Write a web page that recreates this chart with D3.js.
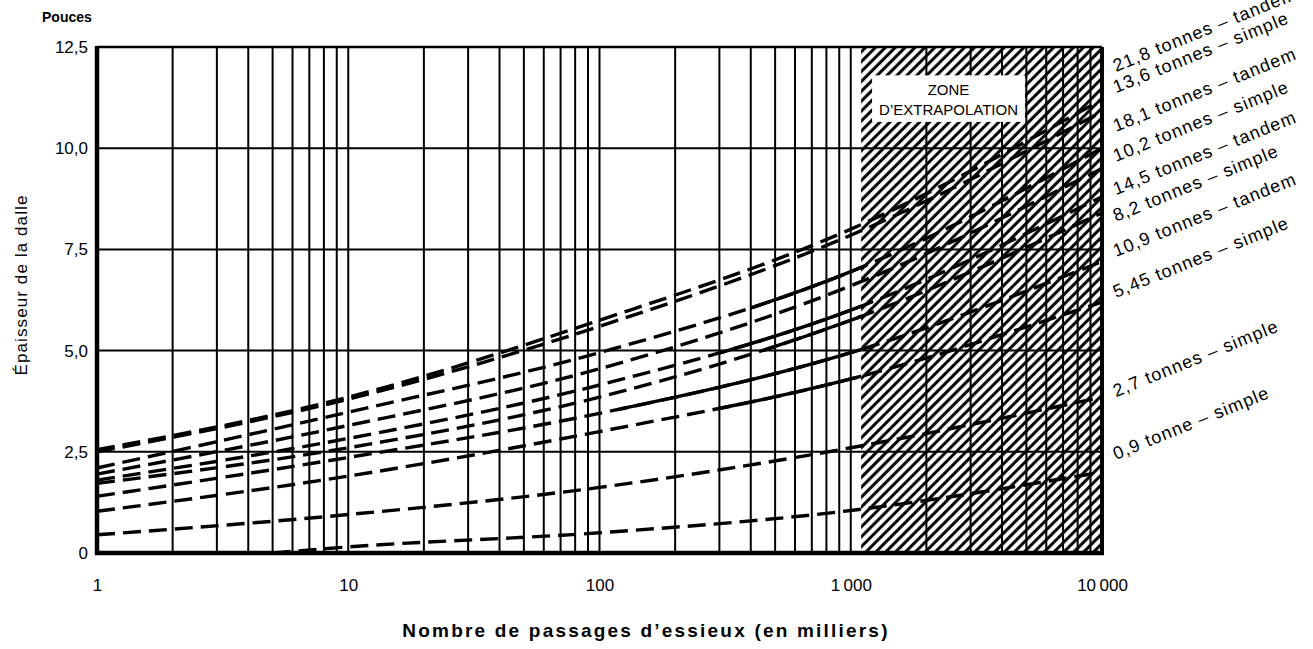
<!DOCTYPE html>
<html>
<head>
<meta charset="utf-8">
<script src="https://cdn.jsdelivr.net/npm/d3@7"></script>
<style>
  html, body { margin: 0; padding: 0; background: #fff; }
  svg { display: block; font-family: "Liberation Sans", Arial, Helvetica, sans-serif; }
</style>
</head>
<body>
<svg id="chart" width="1313" height="649"></svg>
<script>
// ---------------- DATA ----------------
const passages = [1, 10, 100, 1000, 10000];          // milliers de passages
const passages09 = [5, 10, 100, 1000, 10000];        // courbe 0,9 tonne (commence plus loin)

const t218tandem = [2.55, 3.85, 5.75, 8.0, 11.2];
const t136simple = [2.5, 3.8, 5.6, 7.85, 10.9];
const t181tandem = [2.1, 3.48, 4.95, 6.95, 10.0];
const t102simple = [1.95, 3.15, 4.55, 6.6, 9.5];
const t145tandem = [1.8, 2.83, 4.15, 6.0, 8.8];
const t82simple  = [1.72, 2.6, 3.85, 5.75, 8.4];
const t109tandem = [1.4, 2.36, 3.45, 4.95, 7.2];
const t545simple = [1.03, 1.9, 3.0, 4.3, 6.2];
const t27simple  = [0.45, 0.95, 1.62, 2.6, 3.85];
const t09simple  = [0.0, 0.15, 0.5, 1.05, 2.0];

const seriesLabels = [
  "21,8 tonnes – tandem", "13,6 tonnes – simple", "18,1 tonnes – tandem",
  "10,2 tonnes – simple", "14,5 tonnes – tandem", "8,2 tonnes – simple",
  "10,9 tonnes – tandem", "5,45 tonnes – simple", "2,7 tonnes – simple",
  "0,9 tonne – simple"
];
// start of the solid (measured) part of each curve, null = dashed only
const solidFrom = [null, null, 400, null, 300, 450, 120, 300, null, null];
const extrapolationStart = 1100;

const yTicks = [0, 2.5, 5, 7.5, 10, 12.5];
const yTickLabels = ["0", "2,5", "5,0", "7,5", "10,0", "12,5"];
const xTicks = [1, 10, 100, 1000, 10000];
const xTickLabels = ["1", "10", "100", "1\u2009000", "10\u2009000"];

// label anchor heights (layout, in inch units) for the right-hand labels
const labelAnchorY = [11.88, 11.36, 10.4, 9.66, 8.84, 8.18, 7.31, 6.3, 3.85, 2.3];

// ---------------- CHART ----------------
const svg = d3.select("#chart");
const x = d3.scaleLog().domain([1, 10000]).range([97, 1102]);
const y = d3.scaleLinear().domain([0, 12.5]).range([553, 47]);

const series = [
  {xs: passages, ys: t218tandem}, {xs: passages, ys: t136simple},
  {xs: passages, ys: t181tandem}, {xs: passages, ys: t102simple},
  {xs: passages, ys: t145tandem}, {xs: passages, ys: t82simple},
  {xs: passages, ys: t109tandem}, {xs: passages, ys: t545simple},
  {xs: passages, ys: t27simple},  {xs: passages09, ys: t09simple}
];

const defs = svg.append("defs");
const pat = defs.append("pattern").attr("id", "hatch")
  .attr("patternUnits", "userSpaceOnUse").attr("width", 7).attr("height", 7)
  .attr("patternTransform", "rotate(45)");
pat.append("line").attr("x1", 1.6).attr("y1", 0).attr("x2", 1.6).attr("y2", 7)
  .attr("stroke", "#000").attr("stroke-width", 3.0);

svg.append("rect").attr("width", 1313).attr("height", 649).attr("fill", "#fff");

// extrapolation zone
svg.append("rect")
  .attr("x", x(extrapolationStart)).attr("y", y(12.5))
  .attr("width", x(10000) - x(extrapolationStart)).attr("height", y(0) - y(12.5))
  .attr("fill", "url(#hatch)");

// grid
const vgrid = [];
for (let k = 0; k < 4; k++) for (let m = 1; m < 10; m++) vgrid.push(m * Math.pow(10, k));
svg.append("g").selectAll("line").data(vgrid).join("line")
  .attr("x1", d => x(d)).attr("x2", d => x(d))
  .attr("y1", y(12.5)).attr("y2", y(0))
  .attr("stroke", "#000").attr("stroke-width", 2);
svg.append("g").selectAll("line").data([2.5, 5, 7.5, 10]).join("line")
  .attr("x1", x(1)).attr("x2", x(10000))
  .attr("y1", d => y(d)).attr("y2", d => y(d))
  .attr("stroke", "#000").attr("stroke-width", 2);

// frame
svg.append("line").attr("x1", x(1)).attr("x2", x(10000)).attr("y1", y(12.5)).attr("y2", y(12.5))
  .attr("stroke", "#000").attr("stroke-width", 2.5);
svg.append("line").attr("x1", x(10000)).attr("x2", x(10000)).attr("y1", y(12.5)).attr("y2", y(0))
  .attr("stroke", "#000").attr("stroke-width", 4);
svg.append("line").attr("x1", x(1)).attr("x2", x(1)).attr("y1", y(12.5) - 1).attr("y2", y(0) + 2)
  .attr("stroke", "#000").attr("stroke-width", 4.5);
svg.append("line").attr("x1", x(1) - 2).attr("x2", x(10000) + 2).attr("y1", y(0)).attr("y2", y(0))
  .attr("stroke", "#000").attr("stroke-width", 4.5);

// curves
const lineGen = d3.line().x(d => x(d[0])).y(d => y(d[1])).curve(d3.curveMonotoneX);
const gl = svg.append("g");
series.forEach((s, i) => {
  const pts = s.xs.map((v, j) => [v, s.ys[j]]);
  gl.append("path").attr("d", lineGen(pts))
    .attr("fill", "none").attr("stroke", "#000").attr("stroke-width", 3.4)
    .attr("stroke-dasharray", "18,8");
  if (solidFrom[i] !== null) {
    const cid = "solid" + i;
    defs.append("clipPath").attr("id", cid).append("rect")
      .attr("x", x(solidFrom[i])).attr("y", 0)
      .attr("width", x(extrapolationStart) - x(solidFrom[i])).attr("height", 649);
    gl.append("path").attr("d", lineGen(pts))
      .attr("clip-path", `url(#${cid})`)
      .attr("fill", "none").attr("stroke", "#000").attr("stroke-width", 3.4);
  }
});

// axes
const yAxis = svg.append("g").attr("transform", `translate(${x(1)},0)`)
  .call(d3.axisLeft(y).tickValues(yTicks).tickFormat((d, i) => yTickLabels[i]).tickSize(0).tickPadding(9));
yAxis.select(".domain").remove();
yAxis.selectAll("text").attr("font-size", 17).attr("fill", "#000")
  .attr("font-family", "'Liberation Sans', Arial, sans-serif");

const xAxis = svg.append("g").attr("transform", `translate(0,${y(0)})`)
  .call(d3.axisBottom(x).tickValues(xTicks).tickFormat((d, i) => xTickLabels[i]).tickSize(0).tickPadding(26));
xAxis.select(".domain").remove();
xAxis.selectAll("text").attr("font-size", 17).attr("fill", "#000")
  .attr("font-family", "'Liberation Sans', Arial, sans-serif");

// zone label
const zx0 = x(1216), zx1 = x(4935);
svg.append("rect").attr("x", zx0).attr("y", y(11.8)).attr("width", zx1 - zx0).attr("height", y(10.65) - y(11.8))
  .attr("fill", "#fff");
svg.append("text").attr("x", (zx0 + zx1) / 2).attr("y", 95).attr("text-anchor", "middle")
  .attr("font-size", 15).text("ZONE");
svg.append("text").attr("x", (zx0 + zx1) / 2).attr("y", 115).attr("text-anchor", "middle")
  .attr("font-size", 15).text("D’EXTRAPOLATION");

// right-hand labels
svg.append("g").selectAll("text").data(seriesLabels).join("text")
  .attr("x", x(10000) + 14).attr("y", (d, i) => y(labelAnchorY[i]))
  .attr("transform", (d, i) => `rotate(-22, ${x(10000) + 14}, ${y(labelAnchorY[i])})`)
  .attr("font-size", 18).attr("letter-spacing", 1.1)
  .text(d => d);

// titles
svg.append("text").attr("x", 42).attr("y", 22).attr("font-weight", "bold").attr("font-size", 14).text("Pouces");
svg.append("text").attr("transform", "translate(27,285) rotate(-90)").attr("text-anchor", "middle")
  .attr("font-size", 17).attr("letter-spacing", 1.1).text("Épaisseur de la dalle");
svg.append("text").attr("x", 646).attr("y", 637).attr("text-anchor", "middle")
  .attr("font-weight", "bold").attr("font-size", 19).attr("letter-spacing", 2.2)
  .text("Nombre de passages d’essieux (en milliers)");
</script>
</body>
</html>
